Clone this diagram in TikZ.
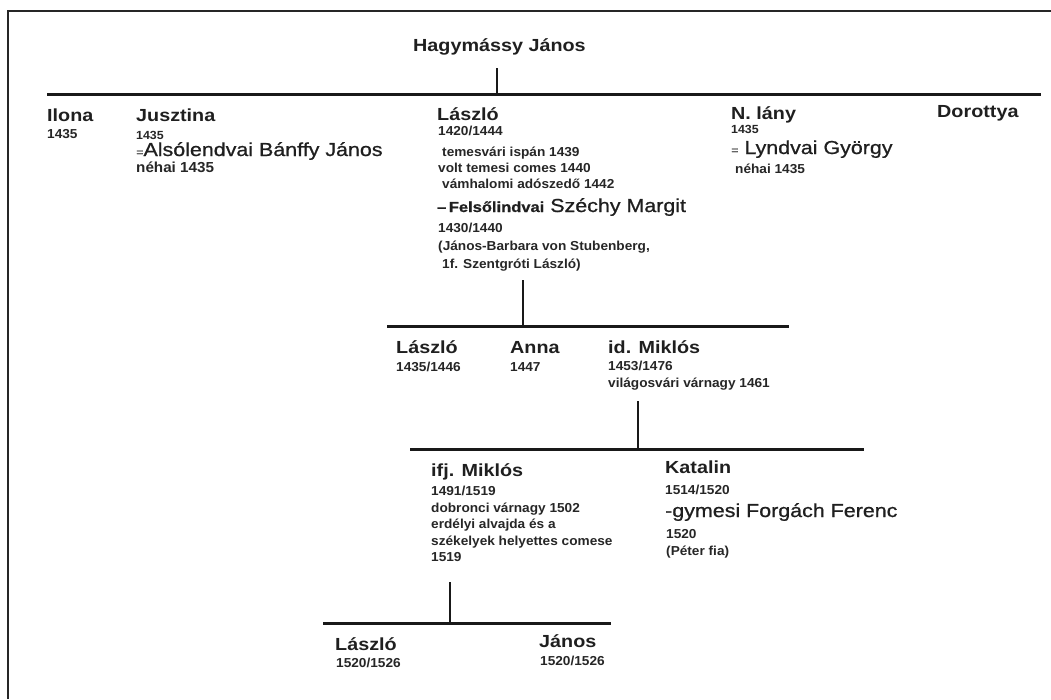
\documentclass[tikz,border=0pt]{standalone}
\usepackage{fontspec}
\setmainfont{Liberation Sans}
\newfontfamily\namefont[FakeStretch=1.13]{Liberation Sans}
\newfontfamily\spfont[FakeStretch=1.14,FakeBold=0.8]{Liberation Sans}
\newfontfamily\notefont[FakeStretch=1.05]{Liberation Sans}
\usepackage{tikz}
\tikzset{nm/.style={anchor=base west, inner sep=0pt, text=black!88, font=\namefont\bfseries\fontsize{17.5}{19}\selectfont}}
\tikzset{nt/.style={anchor=base west, inner sep=0pt, text=black!85, font=\notefont\bfseries\fontsize{13}{15}\selectfont}}
\tikzset{sp/.style={anchor=base west, inner sep=0pt, text=black!88, font=\spfont\fontsize{18.8}{20}\selectfont}}
\tikzset{
  bar/.style={black!90, line width=3pt},
  tick/.style={black!90, line width=2.4pt},
  frame/.style={black!85, line width=2pt}
}
\newcommand{\smeq}{{\fontsize{11}{11}\selectfont=}}

\begin{document}
\begin{tikzpicture}[x=1pt, y=-1pt]
\useasboundingbox (0,0) rectangle (1051,699);
\draw[frame] (8,699) -- (8,11) -- (1051,11);
% first generation
\node[nm] (hj) at (413,51) {Hagymássy János};
\coordinate (hjt) at (497,68);
\coordinate (g1w) at (47,94);
\coordinate (g1e) at (1041,94);
\draw[bar] (g1w) -- (g1e);
\draw[tick] (hjt) -- (hjt |- g1w);
% children
\node[nm] (ilona) at (47,121) {Ilona};
\node[nt] (ilona1) at (47,138) {1435};
\node[nm] (jusz) at (136,121) {Jusztina};
\node[nt, font=\notefont\bfseries\fontsize{11.8}{12}\selectfont] (jusz1) at (136,139) {1435};
\node[sp] (jusz2) at (136,156) {\smeq Alsólendvai Bánffy János};
\node[nt, font=\notefont\bfseries\fontsize{14.5}{16}\selectfont] (jusz3) at (136,172) {néhai 1435};
\node[nm] (lasz) at (437,120) {László};
\node[nt] (lasz1) at (438,135) {1420/1444};
\node[nt] (lasz2) at (442,156) {temesvári ispán 1439};
\node[nt] (lasz3) at (438,172) {volt temesi comes 1440};
\node[nt] (lasz4) at (442,188) {vámhalomi adószedő 1442};
\node[sp] (lasz5) at (437,212) {{\bfseries\fontsize{14.5}{16}\selectfont –\,Felsőlindvai} Széchy Margit};
\node[nt] (lasz6) at (438,232) {1430/1440};
\node[nt] (lasz7) at (438,250) {(János-Barbara von Stubenberg,};
\node[nt] (lasz8) at (442,268) {1f. Szentgróti László)};
\node[nm] (nlany) at (731,119) {N. lány};
\node[nt, font=\notefont\bfseries\fontsize{11.8}{12}\selectfont] (nlany1) at (731,133) {1435};
\node[sp] (nlany2) at (731,154) {\smeq\ Lyndvai György};
\node[nt] (nlany3) at (735,173) {néhai 1435};
\node[nm] (dor) at (937,117) {Dorottya};
% László's children
\coordinate (lt) at (523,280);
\coordinate (g2w) at (387,326);
\coordinate (g2e) at (789,326);
\draw[bar] (g2w) -- (g2e);
\draw[tick] (lt) -- (lt |- g2w);
\node[nm] (lasz0) at (396,353) {László};
\node[nt] (lasz01) at (396,371) {1435/1446};
\node[nm] (anna) at (510,353) {Anna};
\node[nt] (anna1) at (510,371) {1447};
\node[nm] (mik) at (608,353) {id. Miklós};
\node[nt] (mik1) at (608,370) {1453/1476};
\node[nt] (mik2) at (608,387) {világosvári várnagy 1461};
% Miklós's children
\coordinate (mt) at (638,401);
\coordinate (g3w) at (410,449);
\coordinate (g3e) at (864,449);
\draw[bar] (g3w) -- (g3e);
\draw[tick] (mt) -- (mt |- g3w);
\node[nm] (ifj) at (431,476) {ifj. Miklós};
\node[nt] (ifj1) at (431,495) {1491/1519};
\node[nt] (ifj2) at (431,512) {dobronci várnagy 1502};
\node[nt] (ifj3) at (431,528) {erdélyi alvajda és a};
\node[nt] (ifj4) at (431,545) {székelyek helyettes comese};
\node[nt] (ifj5) at (431,561) {1519};
\node[nm] (kat) at (665,473) {Katalin};
\node[nt] (kat1) at (665,494) {1514/1520};
\node[sp] (kat2) at (665,517) {-gymesi Forgách Ferenc};
\node[nt] (kat3) at (666,538) {1520};
\node[nt] (kat4) at (666,555) {(Péter fia)};
% last generation
\coordinate (it) at (450,582);
\coordinate (g4w) at (323,623);
\coordinate (g4e) at (611,623);
\draw[bar] (g4w) -- (g4e);
\draw[tick] (it) -- (it |- g4w);
\node[nm] (lasz9) at (335,650) {László};
\node[nt] (lasz91) at (336,667) {1520/1526};
\node[nm] (janos) at (539,647) {János};
\node[nt] (janos1) at (540,665) {1520/1526};
\end{tikzpicture}
\end{document}
